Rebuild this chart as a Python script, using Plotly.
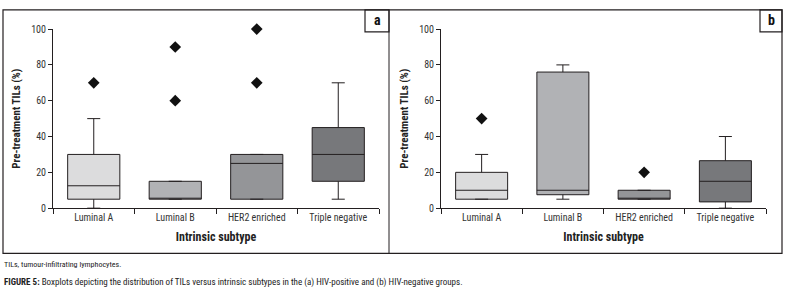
import plotly.graph_objects as go

W, H = 786, 296

categories = ["Luminal A", "Luminal B", "HER2 enriched", "Triple negative"]
box_colors = ["#dcdcdd", "#b1b2b5", "#949598", "#77787b"]

# Panel a (HIV-positive)
a_lower = [0, 5, 5, 5]
a_q1 = [5, 5, 5, 15]
a_median = [12.5, 5, 25, 30]
a_q3 = [30, 15, 30, 45]
a_upper = [50, 15, 30, 70]
a_out_x = ["Luminal A", "Luminal B", "Luminal B", "HER2 enriched", "HER2 enriched"]
a_out_y = [70, 60, 90, 70, 100]

# Panel b (HIV-negative)
b_lower = [5, 5, 5, 0]
b_q1 = [5, 7.5, 5, 3.5]
b_median = [10, 10, 5, 15]
b_q3 = [20, 76, 10, 26.5]
b_upper = [30, 80, 10, 40]
b_out_x = ["Luminal A", "HER2 enriched"]
b_out_y = [50, 20]

y_ticks = [0, 20, 40, 60, 80, 100]

FONT = "Liberation Sans Narrow, Arial Narrow, Roboto Condensed, Liberation Sans, sans-serif"
DARK = "#231f20"

fig = go.Figure()

def px_x(p):
    return p / W

def px_y(p):
    return 1 - p / H

panels = [
    dict(lower=a_lower, q1=a_q1, med=a_median, q3=a_q3, up=a_upper, ox=a_out_x, oy=a_out_y,
         xa="x", ya="y", xdom=(53, 379), letter="a", lbox=(365, 389)),
    dict(lower=b_lower, q1=b_q1, med=b_median, q3=b_q3, up=b_upper, ox=b_out_x, oy=b_out_y,
         xa="x2", ya="y2", xdom=(441, 766), letter="b", lbox=(760, 782)),
]

layout_axes = {}
annotations = []
shapes = []
for i, p in enumerate(panels):
    for j, c in enumerate(categories):
        fig.add_trace(go.Box(
            x=[c], q1=[p["q1"][j]], median=[p["med"][j]], q3=[p["q3"][j]],
            lowerfence=[p["lower"][j]], upperfence=[p["up"][j]],
            fillcolor=box_colors[j], line=dict(color=DARK, width=1),
            width=0.64, whiskerwidth=0.25, boxpoints=False,
            xaxis=p["xa"], yaxis=p["ya"], showlegend=False, hoverinfo="skip"))
    fig.add_trace(go.Scatter(
        x=p["ox"], y=p["oy"], mode="markers",
        marker=dict(symbol="diamond", size=9, color="#111111"),
        xaxis=p["xa"], yaxis=p["ya"], showlegend=False, cliponaxis=False))
    sfx = "" if i == 0 else "2"
    layout_axes["xaxis" + sfx] = dict(
        domain=[px_x(p["xdom"][0]), px_x(p["xdom"][1])],
        type="category", categoryorder="array", categoryarray=categories,
        range=[-0.5, 3.5], tickson="boundaries", ticks="outside", ticklen=5,
        tickcolor=DARK, showline=True, linecolor=DARK, linewidth=1,
        showgrid=False, zeroline=False, anchor="y" + sfx,
        tickfont=dict(family=FONT, size=10, color="#333333"),
        title=dict(text="<b>Intrinsic subtype</b>", standoff=10,
                   font=dict(family=FONT, size=12, color="#222222")),
        fixedrange=True)
    layout_axes["yaxis" + sfx] = dict(
        domain=[px_y(211), px_y(25)], range=[0, 100], tickvals=y_ticks,
        ticks="outside", ticklen=4, tickcolor=DARK, showline=True, linecolor=DARK,
        linewidth=1, showgrid=False, zeroline=False, anchor="x" + sfx,
        tickfont=dict(family=FONT, size=10, color="#333333"),
        title=dict(text="<b>Pre-treatment TILs (%)</b>", standoff=8,
                   font=dict(family=FONT, size=11, color="#222222")),
        fixedrange=True)
    x0, x1 = p["lbox"]
    shapes.append(dict(type="rect", xref="paper", yref="paper",
                       x0=px_x(x0), x1=px_x(x1), y0=px_y(28), y1=px_y(5),
                       line=dict(color=DARK, width=1.2), fillcolor="white"))
    annotations.append(dict(text="<b>%s</b>" % p["letter"], xref="paper", yref="paper",
                            x=px_x((x0 + x1) / 2), y=px_y(16), showarrow=False,
                            xanchor="center", yanchor="middle",
                            font=dict(family=FONT, size=14, color="#111111")))

shapes.append(dict(type="rect", xref="paper", yref="paper",
                   x0=px_x(3), x1=px_x(782), y0=px_y(258), y1=px_y(5),
                   line=dict(color=DARK, width=1.2)))
shapes.append(dict(type="line", xref="paper", yref="paper",
                   x0=px_x(389), x1=px_x(389), y0=px_y(258), y1=px_y(5),
                   line=dict(color=DARK, width=1)))

annotations.append(dict(text="TILs, tumour-infiltrating lymphocytes.", xref="paper", yref="paper",
                        x=px_x(2), y=px_y(270), xanchor="left", yanchor="middle", showarrow=False,
                        font=dict(family=FONT, size=8, color="#222222")))
annotations.append(dict(text="<b>FIGURE 5:</b> Boxplots depicting the distribution of TILs versus intrinsic subtypes in the (a) HIV-positive and (b) HIV-negative groups.",
                        xref="paper", yref="paper",
                        x=px_x(2), y=px_y(288), xanchor="left", yanchor="middle", showarrow=False,
                        font=dict(family=FONT, size=9, color="#222222")))

fig.update_layout(
    width=W, height=H, margin=dict(l=0, r=0, t=0, b=0),
    paper_bgcolor="white", plot_bgcolor="white",
    shapes=shapes, annotations=annotations, **layout_axes)

fig.write_html("out.html", config={"displayModeBar": False, "staticPlot": True},
               post_script="document.body.style.margin='0';document.body.style.overflow='hidden';")
